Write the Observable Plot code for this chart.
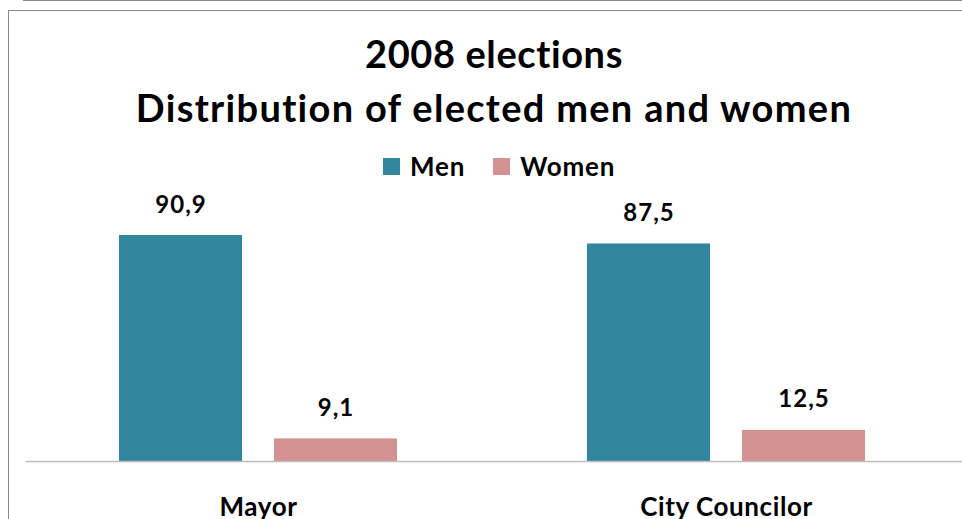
<!DOCTYPE html>
<html>
<head>
<meta charset="utf-8">
<script src="https://cdn.jsdelivr.net/npm/d3@7"></script>
<script src="https://cdn.jsdelivr.net/npm/@observablehq/plot@0.6"></script>
<style>
  html, body { margin: 0; padding: 0; background: #fff; width: 962px; height: 519px; overflow: hidden; }
  body { position: relative; font-family: Lato, "Open Sans", sans-serif; color: #000; }
  .topline { position: absolute; left: 23px; right: 0; top: 0; border-top: 1.5px solid #8a8a8a; }
  .frame { position: absolute; left: 8px; top: 10px; right: 0; bottom: 0; border-top: 1.5px solid #8a8a8a; border-left: 1.5px solid #8a8a8a; }
  .title { position: absolute; left: 0; width: 988px; text-align: center; font-weight: bold; font-size: 38px; line-height: 38px; white-space: nowrap; }
  .legend { position: absolute; top: 153px; left: 383px; display: flex; align-items: center; font-weight: bold; font-size: 26px; line-height: 26px; letter-spacing: 0.8px; }
  .legend .sw { width: 17px; height: 17px; display: inline-block; margin-right: 10px; }
  .legend .item { display: flex; align-items: center; margin-right: 28px; }
  #chart { position: absolute; left: 0; top: 190px; }
  #chart g[aria-label="fx-axis tick label"] text { letter-spacing: 0.6px; }
  #chart g[aria-label="text"] text { letter-spacing: 1px; }
</style>
</head>
<body>
<div class="topline"></div>
<div class="frame"></div>
<div class="title" id="t1" style="top:34px; letter-spacing:0.6px"></div>
<div class="title" id="t2" style="top:88px; letter-spacing:1.3px"></div>
<div class="legend" id="legend"></div>
<div id="chart"></div>
<script>
const titleLines = ["2008 elections", "Distribution of elected men and women"];
const categories = ["Mayor", "City Councilor"];
const series = ["Men", "Women"];
const menValues = [90.9, 87.5];
const womenValues = [9.1, 12.5];
const colors = ["#31859c", "#d49191"];

document.getElementById("t1").textContent = titleLines[0];
document.getElementById("t2").textContent = titleLines[1];

const legend = document.getElementById("legend");
series.forEach((s, i) => {
  const item = document.createElement("div");
  item.className = "item";
  const sw = document.createElement("span");
  sw.className = "sw";
  sw.style.background = colors[i];
  item.appendChild(sw);
  item.appendChild(document.createTextNode(s));
  legend.appendChild(item);
});

const data = categories.flatMap((c, i) => [
  {category: c, sex: series[0], value: menValues[i]},
  {category: c, sex: series[1], value: womenValues[i]}
]);

const chart = Plot.plot({
  width: 962,
  height: 329,
  marginLeft: 117,
  marginRight: 95,
  marginTop: 22.4,
  marginBottom: 58,
  style: {fontFamily: "Lato, 'Open Sans', sans-serif", background: "transparent", overflow: "visible"},
  fx: {domain: categories, paddingInner: 188 / 469, paddingOuter: 0, label: null, axis: null},
  x: {domain: series, paddingInner: 32 / 157, paddingOuter: 0, axis: null},
  y: {domain: [0, 100], axis: null},
  color: {domain: series, range: colors},
  marks: [
    Plot.barY(data, {fx: "category", x: "sex", y: "value", fill: "sex"}),
    Plot.ruleY([0], {stroke: "#bdbdbd", strokeWidth: 1.5, insetLeft: -92, insetRight: -96}),
    Plot.text(data, {
      fx: "category", x: "sex", y: "value",
      text: d => d.value.toFixed(1).replace(".", ","),
      lineAnchor: "bottom", dy: -23,
      fontSize: 24, fontWeight: "bold", fill: "#000"
    }),
    Plot.axisFx({anchor: "bottom", tickSize: 0, tickPadding: 36, fontSize: 26, fontWeight: "bold", label: null, color: "#000"})
  ]
});
document.getElementById("chart").appendChild(chart);
</script>
</body>
</html>
